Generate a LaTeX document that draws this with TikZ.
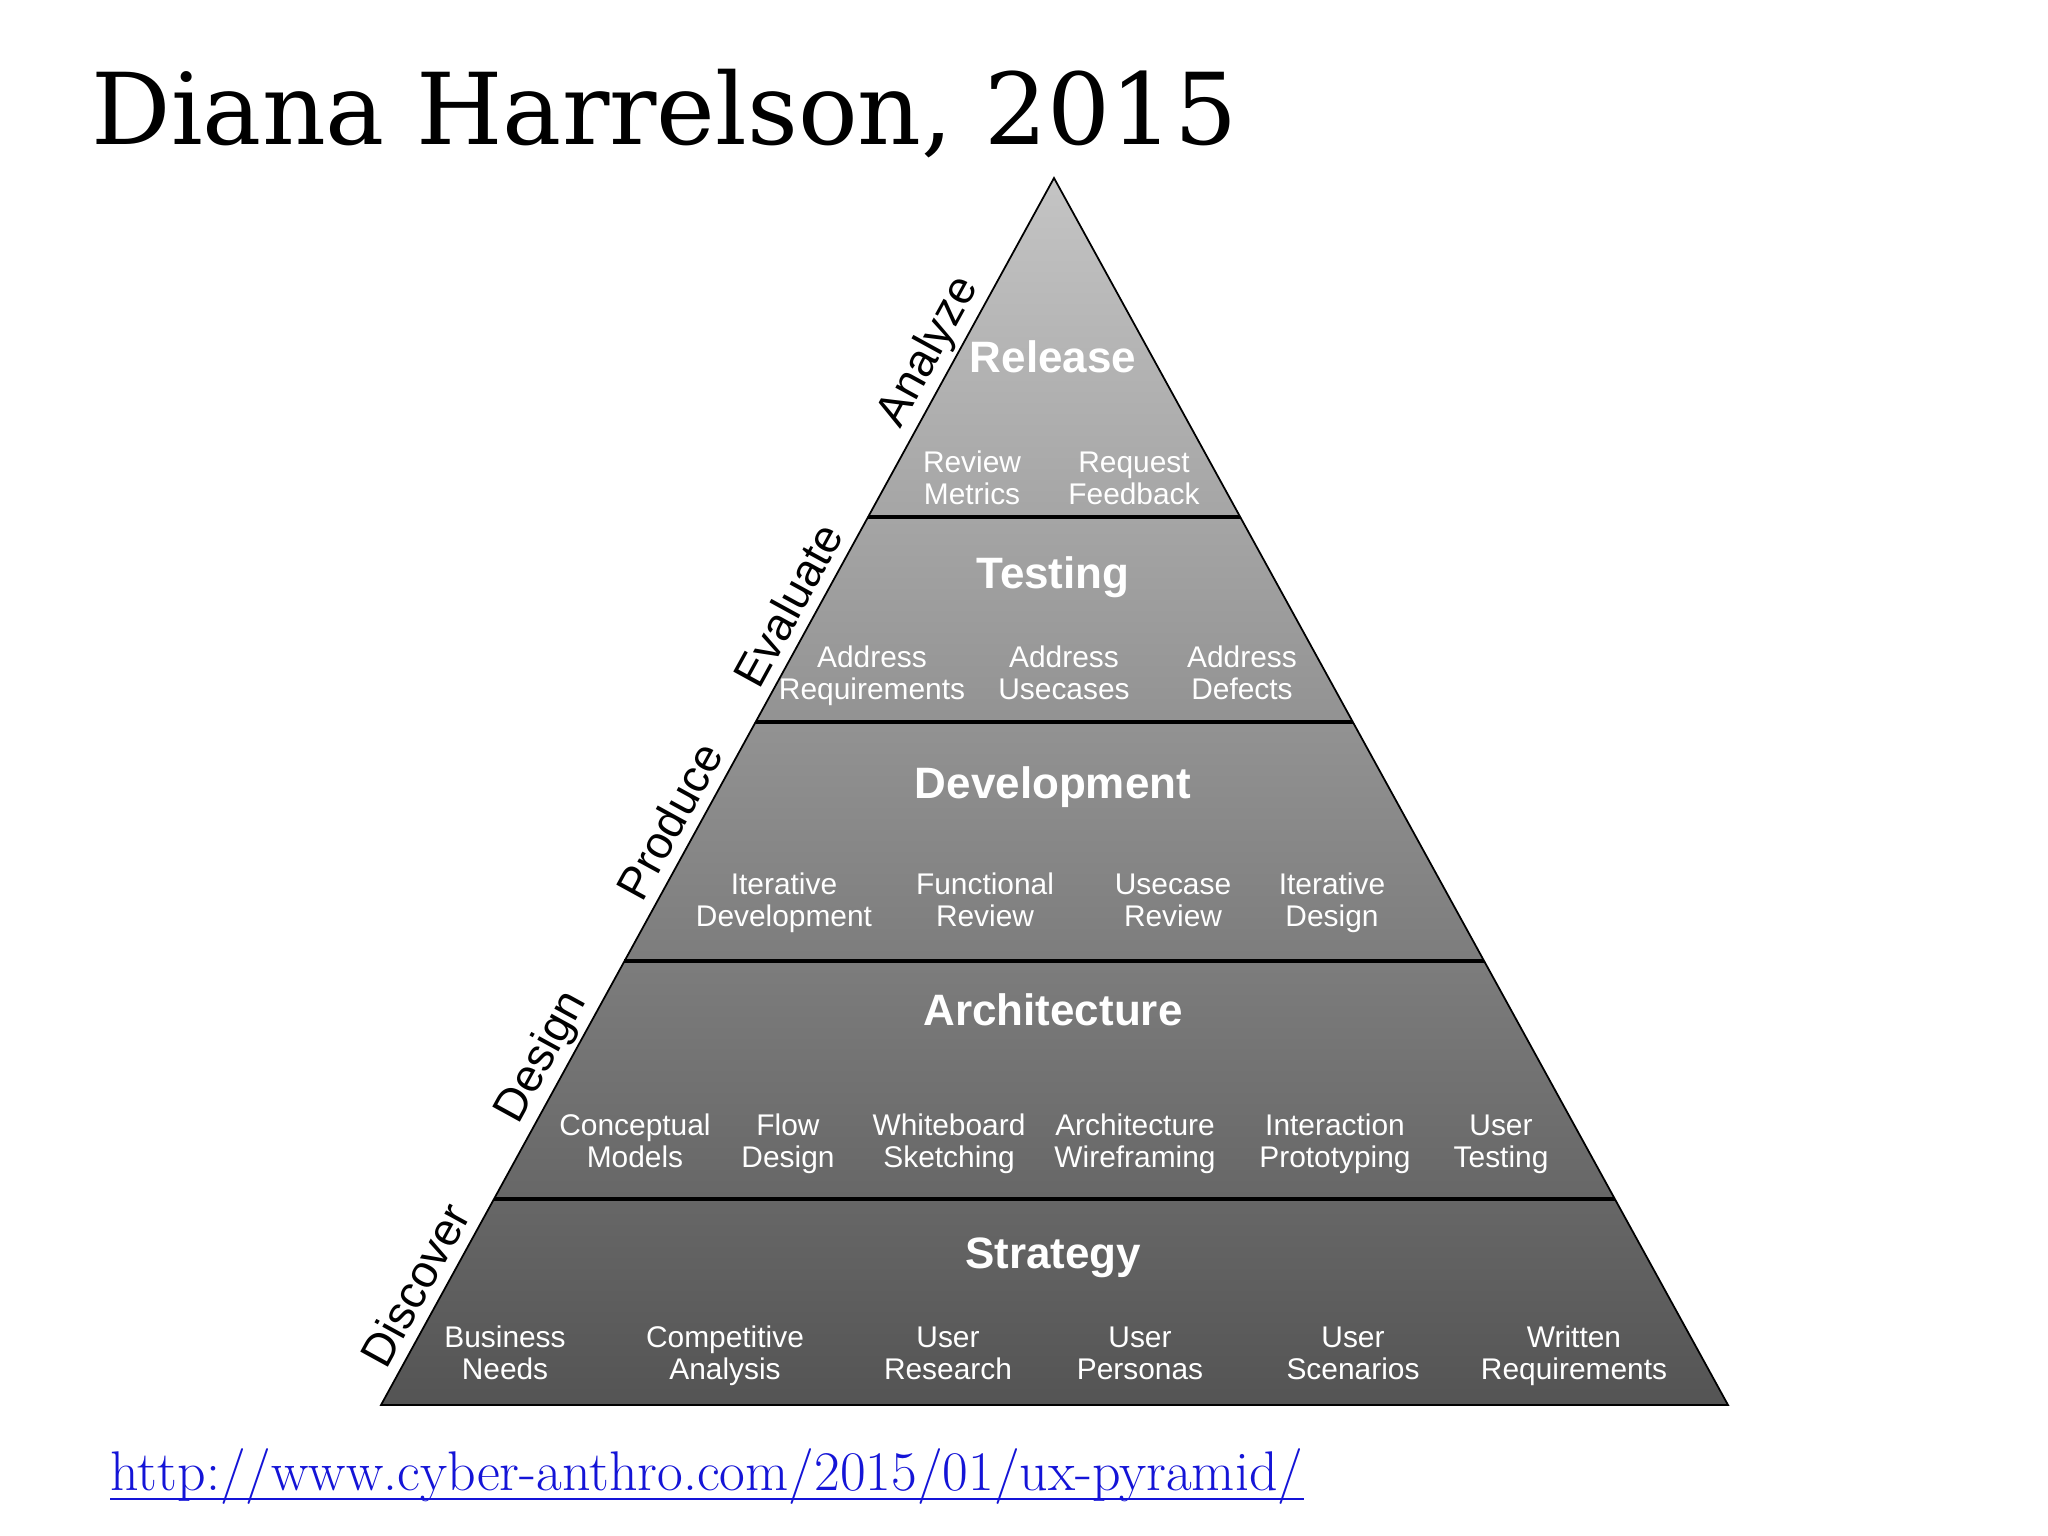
\documentclass[tikz,border=0pt]{standalone}
\usepackage{fontspec}
\setsansfont{Liberation Sans}
\newfontfamily\titlefont{DejaVu Serif}
\usetikzlibrary{positioning}
\definecolor{pyrtop}{RGB}{196,196,196}
\definecolor{pyrbottom}{RGB}{84,84,84}
\definecolor{urlblue}{RGB}{20,20,215}
\newcommand{\twolines}[2]{\strut#1\\\strut#2}

\begin{document}
\begin{tikzpicture}[x=0.01cm, y=-0.01cm,
band/.style={text=white, anchor=base, inner sep=0pt, font=\sffamily\bfseries\fontsize{12.5}{14}\selectfont},
item/.style={text=white, align=center, inner sep=0pt, yshift=-1.2pt, font=\sffamily\fontsize{8.5}{9}\selectfont},
phase/.style={sloped, above, inner sep=1pt, font=\sffamily\fontsize{13}{15}\selectfont},
divider/.style={line width=0.9pt}]
\useasboundingbox [fill=white] (0,0) rectangle (2048,1536);

\node [anchor=base west, inner sep=0pt] (title) at (91,144)
{\titlefont\fontsize{28.2}{32}\selectfont Diana Harrelson, 2015};

% pyramid
\coordinate (apex) at (1054,178);
\coordinate (bl) at (381,1405);
\coordinate (br) at (1728,1405);
\shade [top color=pyrtop, bottom color=pyrbottom] (apex) -- (br) -- (bl) -- cycle;
\draw [line width=0.5pt] (apex) -- (br) -- (bl) -- cycle;

\coordinate (l1) at (868,517); \coordinate (r1) at (1240,517);
\coordinate (l2) at (756,722); \coordinate (r2) at (1353,722);
\coordinate (l3) at (624,961); \coordinate (r3) at (1484,961);
\coordinate (l4) at (494,1199); \coordinate (r4) at (1615,1199);
\draw [divider] (l1) -- (r1);
\draw [divider] (l2) -- (r2);
\draw [divider] (l3) -- (r3);
\draw [divider] (l4) -- (r4);

% phases along the left side
\path (bl) -- (apex)
node [phase, pos=0.087, yshift=2pt] (discover) {Discover}
node [phase, pos=0.273] (design) {Design}
node [phase, pos=0.465, yshift=2pt] (produce) {Produce}
node [phase, pos=0.641, yshift=2pt] (evaluate) {Evaluate}
node [phase, pos=0.848] (analyze) {Analyze};

% Release
\node [band] (release) at (1053,372) {Release};
\node [item] (metrics) at (972,478) {\twolines{Review}{Metrics}};
\node [item] (feedback) at (1134,478) {\twolines{Request}{Feedback}};

% Testing
\node [band] (testing) at (1053,588) {Testing};
\node [item] (addreq) at (872,673) {\twolines{Address}{Requirements}};
\node [item] (adduse) at (1064,673) {\twolines{Address}{Usecases}};
\node [item] (adddef) at (1242,673) {\twolines{Address}{Defects}};

% Development
\node [band] (development) at (1053,798) {Development};
\node [item] (itdev) at (784,900) {\twolines{Iterative}{Development}};
\node [item] (funrev) at (985,900) {\twolines{Functional}{Review}};
\node [item] (userev) at (1173,900) {\twolines{Usecase}{Review}};
\node [item] (itdes) at (1332,900) {\twolines{Iterative}{Design}};

% Architecture
\node [band] (architecture) at (1053,1025) {Architecture};
\node [item] (concept) at (635,1141) {\twolines{Conceptual}{Models}};
\node [item] (flow) at (788,1141) {\twolines{Flow}{Design}};
\node [item] (sketch) at (949,1141) {\twolines{Whiteboard}{Sketching}};
\node [item] (wire) at (1135,1141) {\twolines{Architecture}{Wireframing}};
\node [item] (proto) at (1335,1141) {\twolines{Interaction}{Prototyping}};
\node [item] (usertest) at (1501,1141) {\twolines{User}{Testing}};

% Strategy
\node [band] (strategy) at (1053,1268) {Strategy};
\node [item] (needs) at (505,1353) {\twolines{Business}{Needs}};
\node [item] (compet) at (725,1353) {\twolines{Competitive}{Analysis}};
\node [item] (research) at (948,1353) {\twolines{User}{Research}};
\node [item] (personas) at (1140,1353) {\twolines{User}{Personas}};
\node [item] (scenarios) at (1353,1353) {\twolines{User}{Scenarios}};
\node [item] (written) at (1574,1353) {\twolines{Written}{Requirements}};

\node [anchor=base west, inner sep=0pt, text=urlblue] (url) at (110,1490)
{\fontsize{15.9}{18}\selectfont http://www.cyber-anthro.com/2015/01/ux-pyramid/};
\draw [urlblue, line width=0.7pt] ([yshift=-2.5pt]url.base west) -- ([yshift=-2.5pt]url.base east);
\end{tikzpicture}
\end{document}
